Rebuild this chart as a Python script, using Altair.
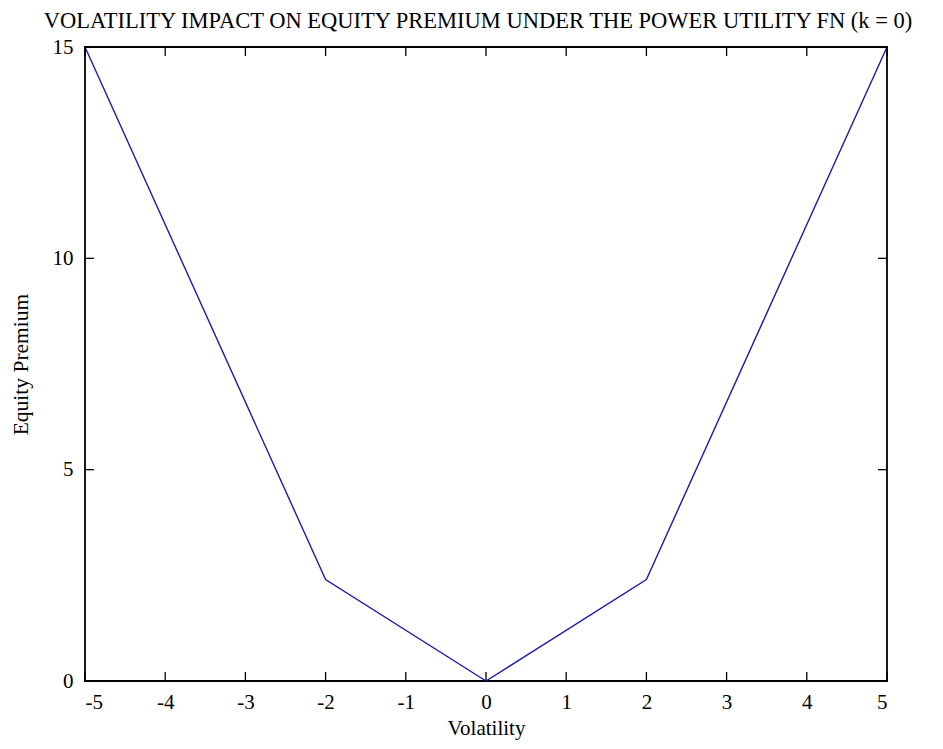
import altair as alt
import pandas as pd

volatility = [-5, -2, 0, 2, 5]
premium = [15, 2.4, 0, 2.4, 15]
x_ticks = [-5, -4, -3, -2, -1, 0, 1, 2, 3, 4, 5]
y_ticks = [0, 5, 10, 15]
title_text = "VOLATILITY IMPACT ON EQUITY PREMIUM UNDER THE POWER UTILITY FN (k = 0)"

FONT = "Liberation Serif"
df = pd.DataFrame({"Volatility": volatility, "Premium": premium})
xt = pd.DataFrame({"t": x_ticks})
yt = pd.DataFrame({"t": y_ticks})

xscale = alt.Scale(domain=[-5, 5], nice=False, zero=False)
yscale = alt.Scale(domain=[0, 15], nice=False)

label_expr = "datum.value < 0 ? '-' + abs(datum.value) : '' + datum.value"

line = alt.Chart(df).mark_line(color="#1c1ca8", strokeWidth=1.4).encode(
    x=alt.X("Volatility:Q", scale=xscale,
            axis=alt.Axis(title="Volatility", values=x_ticks, labelExpr=label_expr,
                          ticks=False, domain=False, grid=False,
                          labelFont=FONT, labelFontSize=21, labelColor="black",
                          labelPadding=10, titleFont=FONT, titleFontSize=21,
                          titleFontWeight="normal", titleColor="black", titlePadding=5)),
    y=alt.Y("Premium:Q", scale=yscale,
            axis=alt.Axis(title="Equity Premium", values=y_ticks,
                          ticks=False, domain=False, grid=False,
                          labelFont=FONT, labelFontSize=21, labelColor="black",
                          labelPadding=12, titleFont=FONT, titleFontSize=21.5,
                          titleFontWeight="normal", titleColor="black", titlePadding=20)),
)

TL = 9
TW = 1.3
bottom_ticks = alt.Chart(xt).mark_rule(color="black", strokeWidth=TW, y2Offset=-TL).encode(
    x=alt.X("t:Q", scale=xscale), y=alt.Y(datum=0, scale=yscale), y2=alt.Y2(datum=0))
top_ticks = alt.Chart(xt).mark_rule(color="black", strokeWidth=TW, y2Offset=TL).encode(
    x=alt.X("t:Q", scale=xscale), y=alt.Y(datum=15, scale=yscale), y2=alt.Y2(datum=15))
left_ticks = alt.Chart(yt).mark_rule(color="black", strokeWidth=TW, x2Offset=TL).encode(
    y=alt.Y("t:Q", scale=yscale), x=alt.X(datum=-5, scale=xscale), x2=alt.X2(datum=-5))
right_ticks = alt.Chart(yt).mark_rule(color="black", strokeWidth=TW, x2Offset=-TL).encode(
    y=alt.Y("t:Q", scale=yscale), x=alt.X(datum=5, scale=xscale), x2=alt.X2(datum=5))

chart = alt.layer(line, bottom_ticks, top_ticks, left_ticks, right_ticks).properties(
    width=802, height=634,
    title=alt.TitleParams(text=title_text, font=FONT, fontSize=22.5, fontWeight="normal",
                          color="black", anchor="middle", offset=4, dx=-8),
    autosize=alt.AutoSizeParams(type="none"),
    padding={"left": 77, "top": 39, "right": 48, "bottom": 60},
).configure(
    background="white",
    view=alt.ViewConfig(stroke="black", strokeWidth=1.8),
)

chart.save("out.html", embed_options={"renderer": "svg", "actions": False})
